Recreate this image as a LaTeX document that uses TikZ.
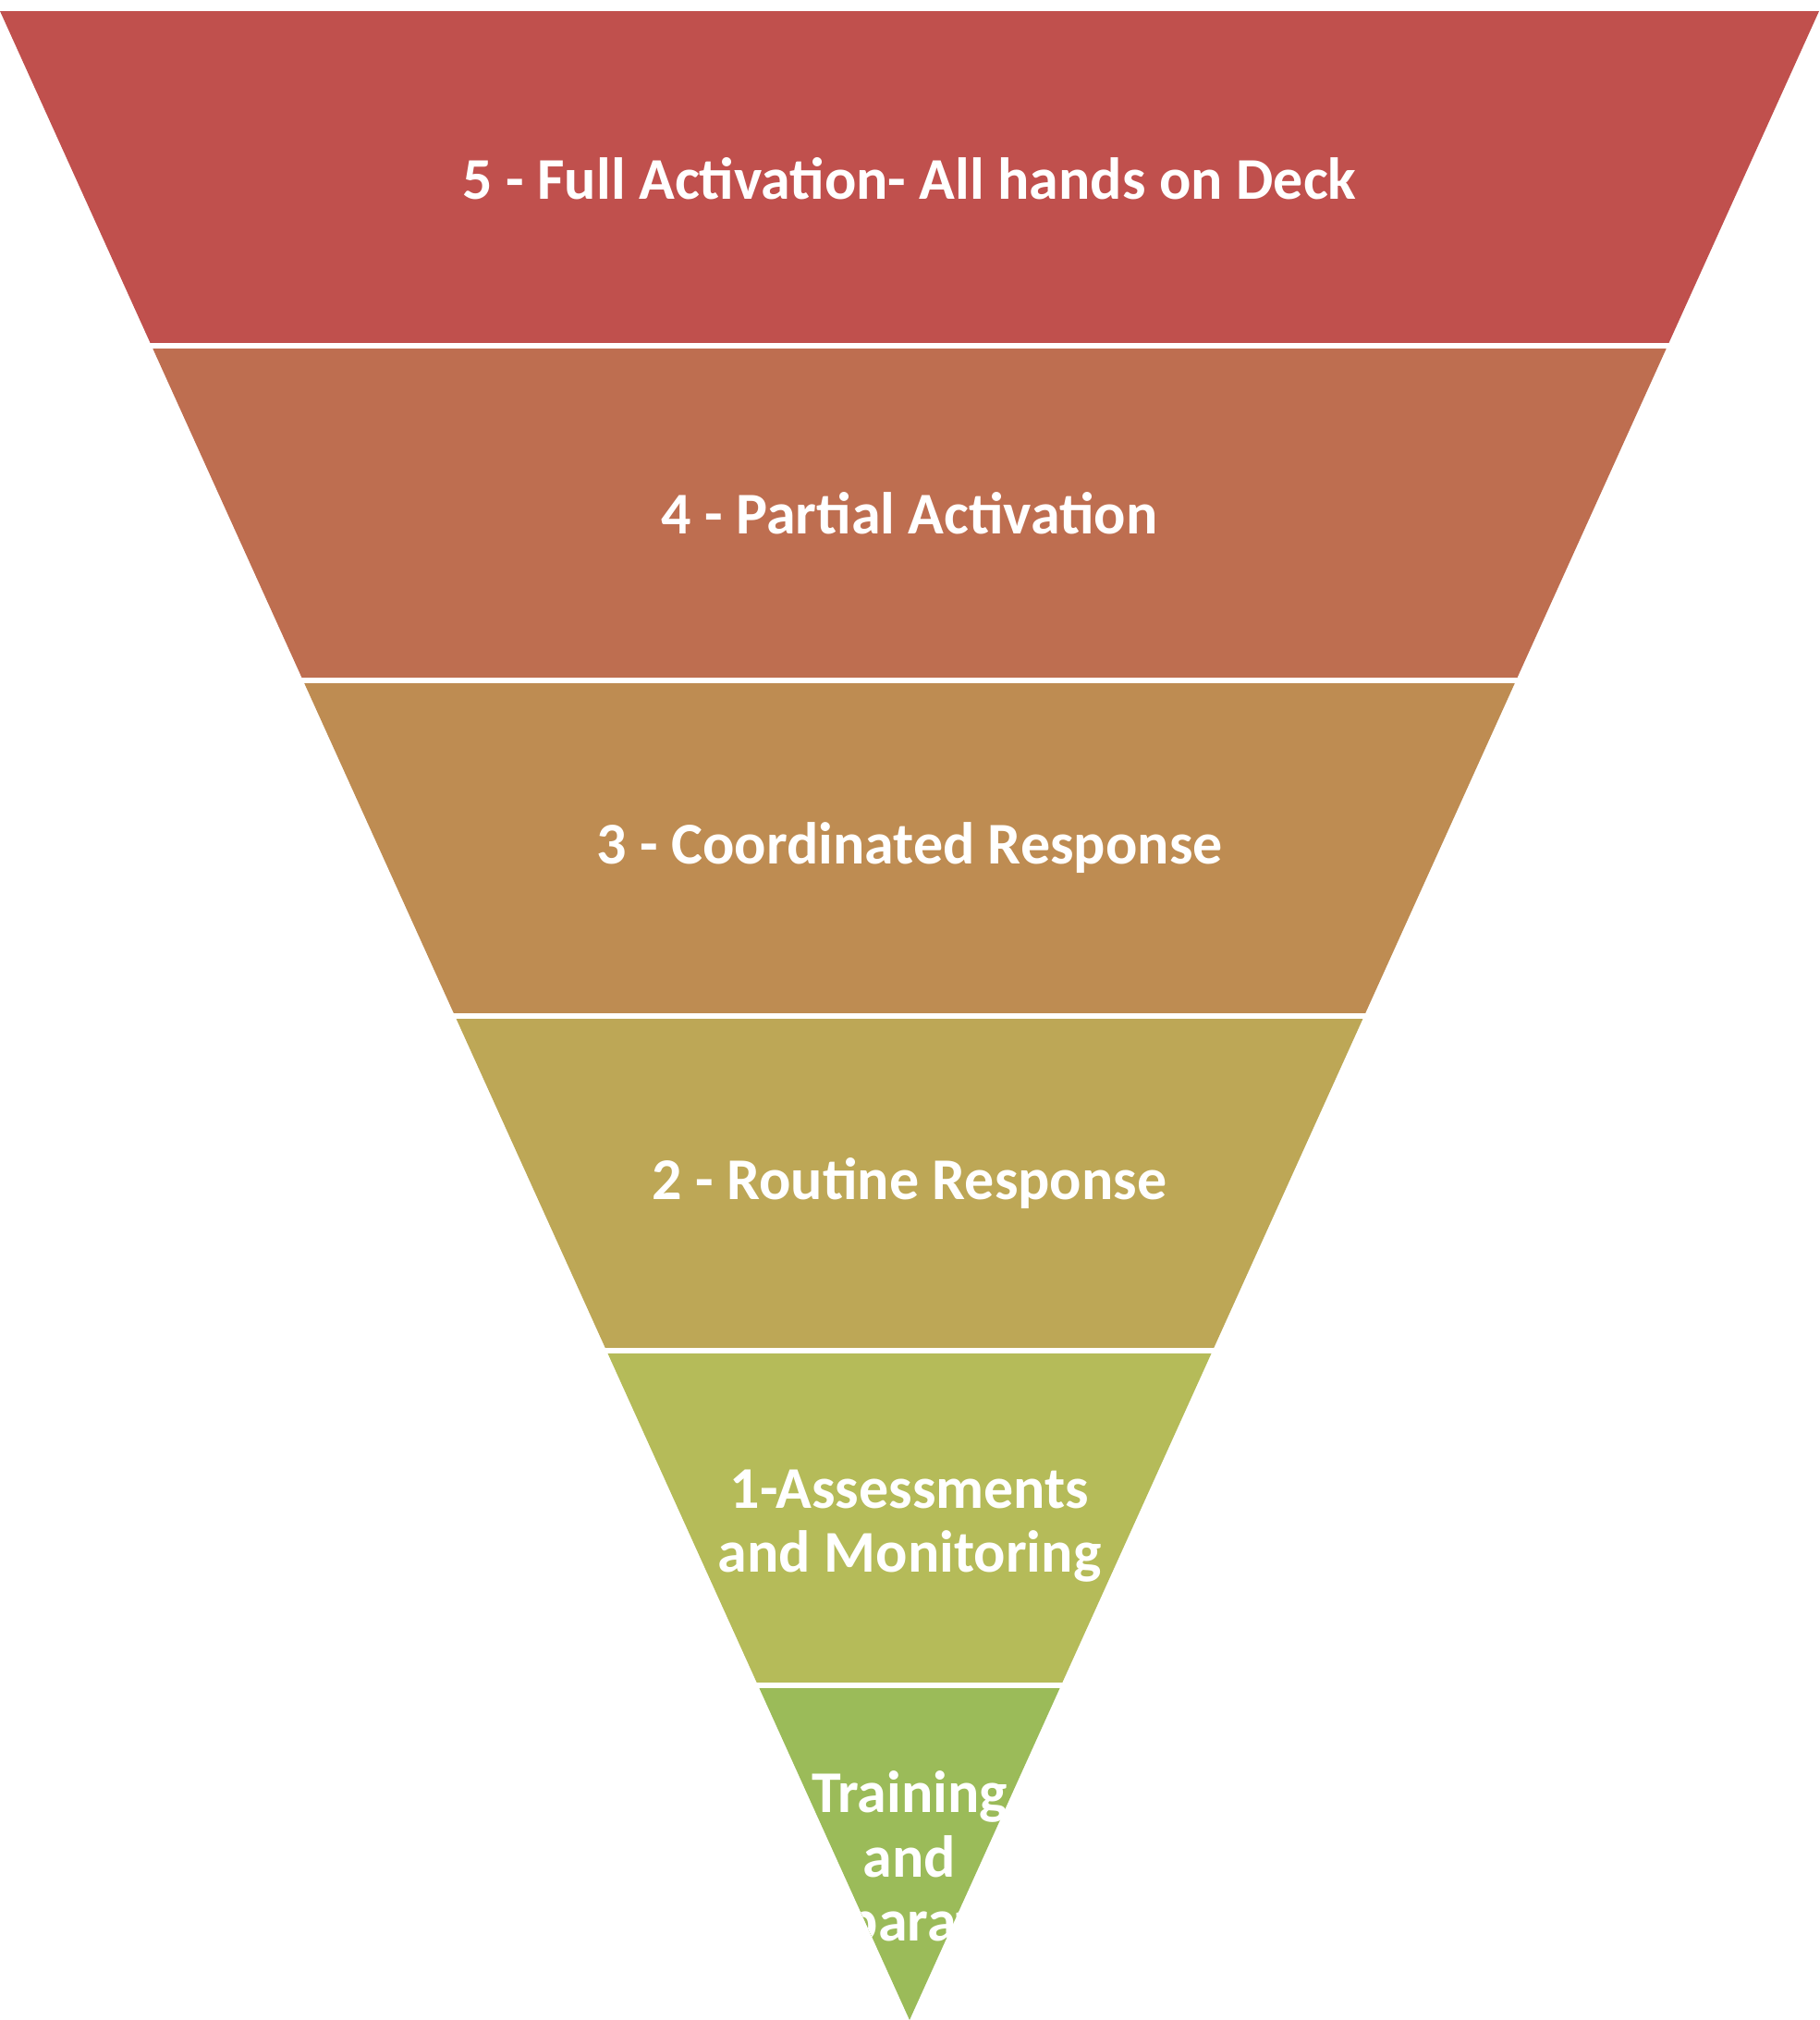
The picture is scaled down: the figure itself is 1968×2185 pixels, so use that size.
\documentclass[tikz,border=0pt]{standalone}
\usepackage{fontspec}
\setmainfont{Carlito}
\definecolor{bandA}{RGB}{192,80,77}
\definecolor{bandB}{RGB}{190,110,80}
\definecolor{bandC}{RGB}{190,140,82}
\definecolor{bandD}{RGB}{189,167,86}
\definecolor{bandE}{RGB}{181,187,89}
\definecolor{bandF}{RGB}{155,187,89}
\newcommand{\drawband}[5]{%
  \pgfmathsetmacro{\ya}{12+362.1667*#1}%
  \pgfmathsetmacro{\yb}{12+362.1667*(#1+1)}%
  \pgfmathsetmacro{\xa}{164*#1}%
  \pgfmathsetmacro{\xb}{164*(#1+1)}%
  \pgfmathsetmacro{\ym}{(\ya+\yb)/2+#5}%
  \begin{scope}
    \clip (\xa,\ya) -- (1968-\xa,\ya) -- (1968-\xb,\yb) -- (\xb,\yb) -- cycle;
    \fill[#2] (0,\ya) rectangle (1968,\yb);
    \node[lbl] (#3) at (984,\ym) {#4};
  \end{scope}}
\begin{document}
\begin{tikzpicture}[x=0.01cm,y=-0.01cm,
  lbl/.style={text=white,font=\fontsize{18.2}{19.8}\selectfont\bfseries,align=center,inner sep=0pt},
  sep/.style={white,line width=0.06cm}]
\useasboundingbox (0,0) rectangle (1968,2185);
\drawband{0}{bandA}{l5}{5 - Full Activation- All hands on Deck}{0}
\drawband{1}{bandB}{l4}{4 - Partial Activation}{0}
\drawband{2}{bandC}{l3}{3 - Coordinated Response}{0}
\drawband{3}{bandD}{l2}{2 - Routine Response}{0}
\drawband{4}{bandE}{l1}{1-Assessments\\and Monitoring}{9}
\drawband{5}{bandF}{l0}{Training\\and\\Preparation}{9}
\foreach \k in {1,...,5}
  \draw[sep] (0,{12+362.1667*\k}) -- (1968,{12+362.1667*\k});
\end{tikzpicture}
\end{document}
